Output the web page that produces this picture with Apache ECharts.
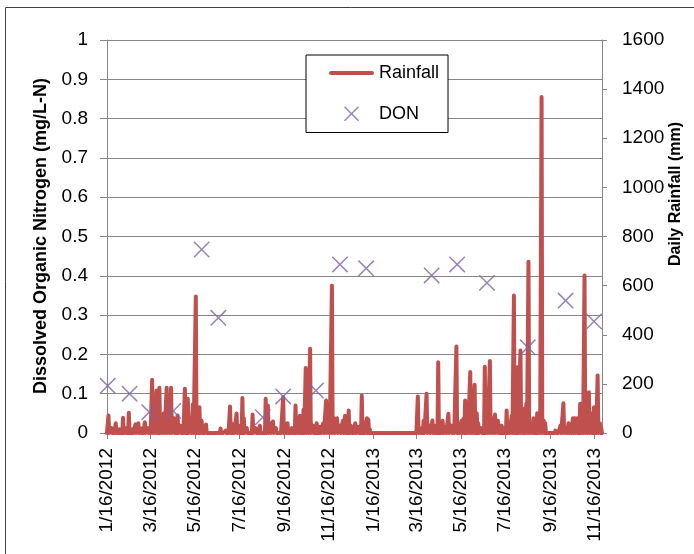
<!DOCTYPE html>
<html><head><meta charset="utf-8">
<script src="https://cdn.jsdelivr.net/npm/echarts@6/dist/echarts.min.js"></script>
<style>html,body{margin:0;padding:0;background:#fff}#c{width:694px;height:554px}</style>
</head><body><div id="c"></div>
<script>
// ---- data ----
const startDate = [2012, 1, 16];   // first category (1/16/2012)
const dayCount = 681;              // daily categories up to 11/26/2013
const xTickLabels = ['1/16/2012','3/16/2012','5/16/2012','7/16/2012','9/16/2012','11/16/2012',
  '1/16/2013','3/16/2013','5/16/2013','7/16/2013','9/16/2013','11/16/2013'];
const leftTicks = [0,0.1,0.2,0.3,0.4,0.5,0.6,0.7,0.8,0.9,1];
const rightTicks = [0,200,400,600,800,1000,1200,1400,1600];
// Rainfall: rainy days (days after 1/16/2012) and daily rainfall (mm); other days 0
const rainDays = [2,6,12,17,22,25,30,35,39,43,46,52,56,62,65,68,70,72,75,78,82,85,88,92,97,101,107,109,111,115,118,122,125,127,130,136,
  156,163,169,171,178,181,186,188,192,200,204,210,218,221,224,228,232,242,246,248,254,259,262,265,270,273,276,279,283,288,293,297,301,305,309,312,316,320,324,327,332,335,341,345,350,353,357,359,361,
  427,430,435,439,443,447,450,455,458,461,465,469,473,476,480,483,487,490,492,495,499,502,505,508,510,514,519,522,526,529,533,537,542,544,549,552,556,559,562,564,568,571,573,576,579,583,586,589,591,594,597,600,602,
  616,623,627,631,634,637,640,643,646,648,650,653,656,659,662,665,667,669,671,674,677,679];
const rainValues = [71,20,40,15,62,20,82,15,35,40,20,44,20,217,100,173,60,184,60,80,184,150,184,60,71,30,180,100,139,60,117,556,80,105,50,35,
  18,10,108,40,79,30,143,60,20,75,20,30,139,112,40,47,20,146,30,40,20,112,40,70,95,265,120,343,30,40,25,40,132,30,600,60,60,30,50,70,92,30,40,25,153,30,60,55,15,
  149,20,50,160,30,51,30,288,30,50,25,78,30,20,352,30,50,60,132,50,248,100,196,80,40,20,270,100,293,60,75,50,30,20,92,30,70,560,80,268,336,100,60,120,697,40,60,30,80,60,1368,50,40,
  10,30,121,20,40,20,60,60,60,40,119,50,641,40,166,40,80,105,50,234,40,20];
// DON samples
const donDates = ['1/17/2012','2/16/2012','3/14/2012','4/16/2012','5/25/2012','6/17/2012','8/17/2012','9/14/2012','10/29/2012',
  '12/1/2012','1/6/2013','4/6/2013','5/11/2013','6/21/2013','8/16/2013','10/7/2013','11/15/2013'];
const donValues = [0.12,0.10,0.053,0.056,0.467,0.293,0.04,0.093,0.108,0.429,0.419,0.401,0.429,0.382,0.218,0.337,0.284];

// ---- build ----
const FONT = 'Liberation Sans';
const categories = [];
const t0 = Date.UTC(startDate[0], startDate[1]-1, startDate[2]);
for (let i = 0; i < dayCount; i++) {
  const d = new Date(t0 + i*86400000);
  categories.push((d.getUTCMonth()+1) + '/' + d.getUTCDate() + '/' + d.getUTCFullYear());
}
const rain = categories.map(() => 0);
rainDays.forEach((d, i) => { rain[d] = rainValues[i]; });
const don = donDates.map((d, i) => [d, donValues[i]]);
const tickSet = new Set(xTickLabels);
const showTick = (idx, val) => tickSet.has(val);
const X_PATH = 'path://M0,0L0,0M20,20L20,20M3,3L17,17M17,3L3,17';

const chart = echarts.init(document.getElementById('c'), null, {renderer:'canvas'});
chart.setOption({
  animation:false,
  backgroundColor:'#fff',
  grid:{left:107, right:92, top:40, bottom:121, containLabel:false},
  xAxis:{type:'category', data:categories, boundaryGap:false,
    axisLine:{lineStyle:{color:'#868686', width:1}},
    axisTick:{interval:showTick, length:6, lineStyle:{color:'#868686'}},
    axisLabel:{interval:showTick, rotate:90, margin:15, fontFamily:FONT, fontSize:19, color:'#000'},
    splitLine:{show:false}},
  yAxis:[
    {type:'value', min:leftTicks[0], max:leftTicks[leftTicks.length-1], interval:0.1, position:'left',
     axisLine:{show:true, lineStyle:{color:'#868686'}},
     axisTick:{show:true, length:7, lineStyle:{color:'#868686'}},
     axisLabel:{margin:19, fontFamily:FONT, fontSize:19, color:'#000'},
     splitLine:{show:true, lineStyle:{color:'#868686', width:1}}},
    {type:'value', min:rightTicks[0], max:rightTicks[rightTicks.length-1], interval:200, position:'right',
     axisLine:{show:true, lineStyle:{color:'#868686'}},
     axisTick:{show:true, length:5, lineStyle:{color:'#868686'}},
     axisLabel:{margin:20, fontFamily:FONT, fontSize:19, color:'#000', formatter:(v) => String(v)},
     splitLine:{show:false}}
  ],
  legend:{orient:'vertical', left:306, top:55, padding:[8,9,8,23],
    itemWidth:45, itemHeight:20, itemGap:20,
    borderColor:'#000', borderWidth:1, backgroundColor:'#fff',
    textStyle:{fontFamily:FONT, fontSize:18, color:'#000'},
    data:[
      {name:'Rainfall', icon:'path://M0,0L0,0M45,20L45,20M2,8L43,8A2,2,0,0,1,43,12L2,12A2,2,0,0,1,2,8Z', itemStyle:{color:'#C0504D', borderWidth:0}},
      {name:'DON', icon:X_PATH, itemStyle:{color:'transparent', borderColor:'#8064A2', borderWidth:1.5}}
    ]},
  series:[
    {name:'Rainfall', type:'line', yAxisIndex:1, data:rain, showSymbol:false, symbol:'none',
     lineStyle:{color:'#C0504D', width:4, join:'round', cap:'round'}, itemStyle:{color:'#C0504D'}, z:2},
    {name:'DON', type:'scatter', yAxisIndex:0, data:don, symbol:X_PATH, symbolSize:22,
     itemStyle:{color:'transparent', borderColor:'#8064A2', borderWidth:1.5}, z:3}
  ],
  graphic:[
    {type:'rect', shape:{x:5.5, y:7.5, width:720, height:600}, style:{fill:'none', stroke:'#404040', lineWidth:1}, silent:true},
    {type:'text', x:41, y:236, rotation:Math.PI/2, style:{text:'Dissolved Organic Nitrogen (mg/L-N)', font:'bold 18px "Liberation Sans"', fill:'#000', align:'center', verticalAlign:'middle'}},
    {type:'text', x:676, y:194, rotation:Math.PI/2, style:{text:'Daily Rainfall (mm)', font:'bold 16px "Liberation Sans"', fill:'#000', align:'center', verticalAlign:'middle'}}
  ]
});
</script></body></html>
